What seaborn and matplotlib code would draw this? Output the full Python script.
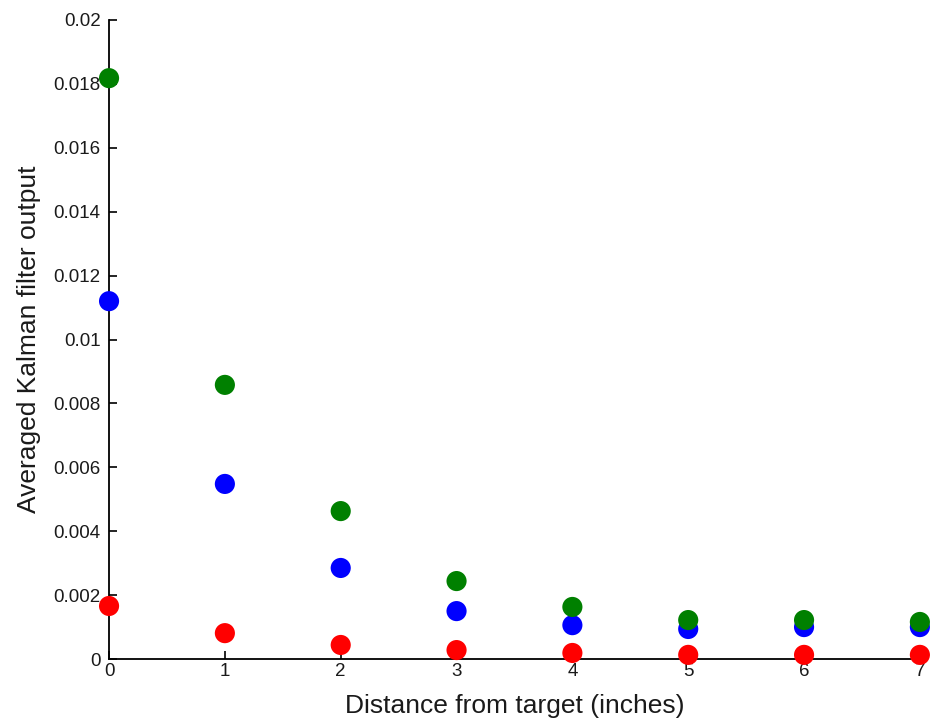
import matplotlib
matplotlib.use("Agg")
import matplotlib.pyplot as plt
import seaborn as sns
import pandas as pd
from matplotlib.ticker import FuncFormatter

distance = [0, 1, 2, 3, 4, 5, 6, 7]
blue_vals = [0.0112, 0.00548, 0.00285, 0.00150, 0.00106, 0.00094, 0.00100, 0.00100]
green_vals = [0.01818, 0.00858, 0.00463, 0.00244, 0.00163, 0.00122, 0.00122, 0.00116]
red_vals = [0.00166, 0.00081, 0.00044, 0.00028, 0.00019, 0.00013, 0.00013, 0.00013]
series_names = ["blue", "red", "green"]
colors = {"blue": "#0000ff", "red": "#ff0000", "green": "#008000"}
y_ticks = [0, 0.002, 0.004, 0.006, 0.008, 0.01, 0.012, 0.014, 0.016, 0.018, 0.02]

df = pd.DataFrame({
    "x": distance * 3,
    "y": blue_vals + red_vals + green_vals,
    "s": ["blue"] * 8 + ["red"] * 8 + ["green"] * 8,
})

sns.set_style("white")
plt.rcParams["font.family"] = ["Liberation Sans", "DejaVu Sans"]
plt.rcParams["text.color"] = "#1a1a1a"
plt.rcParams["axes.labelcolor"] = "#1a1a1a"
plt.rcParams["xtick.labelcolor"] = "#1a1a1a"
plt.rcParams["ytick.labelcolor"] = "#1a1a1a"

fig = plt.figure(figsize=(9.32, 7.27), dpi=100)
ax = fig.add_axes([0.117, 0.0935, 0.87, 0.879])

sns.scatterplot(data=df, x="x", y="y", hue="s", hue_order=series_names,
                palette=colors, s=210, linewidth=0, legend=False, ax=ax,
                clip_on=False, zorder=5)

ax.set_xlim(0, 7)
ax.set_ylim(0, 0.02)
ax.set_xticks(distance)
ax.set_yticks(y_ticks)
ax.yaxis.set_major_formatter(FuncFormatter(lambda v, p: "0" if v == 0 else f"{v:g}"))
ax.tick_params(direction="in", length=6, width=1.2, color="black", labelsize=13.5,
               left=True, bottom=True)
ax.tick_params(axis="y", pad=6)
ax.tick_params(axis="x", pad=3)
for side in ["top", "right"]:
    ax.spines[side].set_visible(False)
for side in ["left", "bottom"]:
    ax.spines[side].set_color("black")
    ax.spines[side].set_linewidth(1.3)

ax.set_xlabel("Distance from target (inches)", fontsize=19, labelpad=10)
ax.set_ylabel("Averaged Kalman filter output", fontsize=19, labelpad=9)

fig.savefig("out.png", dpi=100)
